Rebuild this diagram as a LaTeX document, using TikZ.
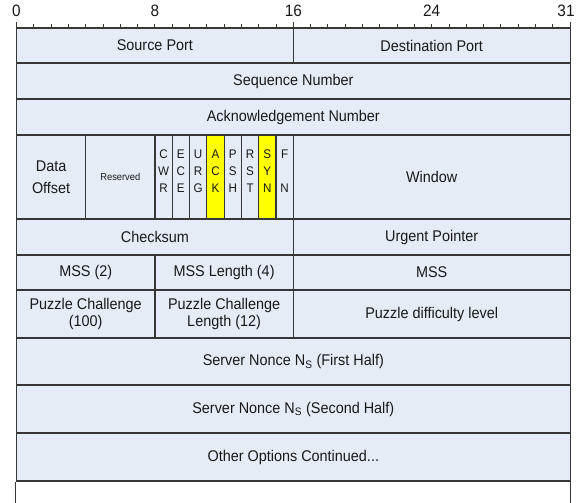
\documentclass[tikz,border=0pt]{standalone}
\usepackage{fontspec}
\setmainfont[FakeStretch=0.93]{Liberation Sans}
\definecolor{cellfill}{RGB}{229,236,246}
\definecolor{linec}{RGB}{55,55,55}
\definecolor{txtc}{RGB}{25,25,25}
\definecolor{flagyel}{RGB}{255,255,0}
% #1 options, #2 name, #3 x1, #4 y1, #5 x2, #6 y2, #7 text
\newcommand\cellnode[7][]{%
  \node[cell,#1,minimum width={#5bp-#3bp},minimum height={#6bp-#4bp}]
    (#2) at ({(#3+#5)/2},{(#4+#6)/2}) {#7};}
\newcommand\flagtxt[1]{\raisebox{5bp}[\height][\depth]{\begin{tabular}{@{}c@{}}#1\end{tabular}}}
\begin{document}
\begin{tikzpicture}[x=1bp,y=-1bp,
  cell/.style={draw=linec,fill=cellfill,line width=1.2bp,inner sep=0pt,
    align=center,text=txtc,font=\fontsize{15.5bp}{17.5bp}\selectfont},
  flag/.style={font=\fontsize{12.5bp}{17bp}\selectfont},
  yel/.style={fill=flagyel},
  smalltxt/.style={font=\fontsize{10bp}{11bp}\selectfont},
  wide/.style={font=\fontsize{15.5bp}{22bp}\selectfont},
  tick/.style={draw=linec,line width=1bp},
  num/.style={inner sep=0pt,text=txtc,font=\fontsize{16.5bp}{18bp}\selectfont},
  frame/.style={draw=linec,line width=1.2bp}]
\useasboundingbox (0,0) rectangle (582,503);
% ruler
\foreach \i in {0,...,32} \draw[tick] ({16.5+17.3*\i},28) -- ++(0,-4);
\foreach \xx in {16.5,293.3,570.1} \draw[tick] (\xx,28) -- (\xx,22);
\node[num] (r0) at (16.5,11) {0};
\node[num] (r8) at (154.9,11) {8};
\node[num] (r16) at (293.3,11) {16};
\node[num] (r24) at (431.7,11) {24};
\node[num] (r31) at (566,11) {31};
% row 1
\cellnode{sp}{16.5}{28}{293.3}{63}{Source Port}
\cellnode{dp}{293.3}{28}{570.1}{63}{Destination Port}
% row 2, 3
\cellnode{seq}{16.5}{63}{570.1}{99}{Sequence Number}
\cellnode{ack}{16.5}{99}{570.1}{135}{Acknowledgement Number}
% row 4
\cellnode[wide]{doff}{16.5}{135}{85.7}{219}{Data\\Offset}
\cellnode[smalltxt]{res}{85.7}{135}{154.9}{219}{Reserved}
\cellnode[flag]{fcwr}{154.9}{135}{172.2}{219}{\flagtxt{C\\W\\R}}
\cellnode[flag]{fece}{172.2}{135}{189.5}{219}{\flagtxt{E\\C\\E}}
\cellnode[flag]{furg}{189.5}{135}{206.8}{219}{\flagtxt{U\\R\\G}}
\cellnode[flag,yel]{fack}{206.8}{135}{224.1}{219}{\flagtxt{A\\C\\K}}
\cellnode[flag]{fpsh}{224.1}{135}{241.4}{219}{\flagtxt{P\\S\\H}}
\cellnode[flag]{frst}{241.4}{135}{258.7}{219}{\flagtxt{R\\S\\T}}
\cellnode[flag,yel]{fsyn}{258.7}{135}{276.0}{219}{\flagtxt{S\\Y\\N}}
\cellnode[flag]{ffin}{276.0}{135}{293.3}{219}{\flagtxt{F\\ \\N}}
\cellnode{win}{293.3}{135}{570.1}{219}{Window}
% row 5
\cellnode{chk}{16.5}{219}{293.3}{255}{Checksum}
\cellnode{urg}{293.3}{219}{570.1}{255}{Urgent Pointer}
% row 6
\cellnode{mss}{16.5}{255}{154.9}{290}{MSS (2)}
\cellnode{mssl}{154.9}{255}{293.3}{290}{MSS Length (4)}
\cellnode{mssv}{293.3}{255}{570.1}{290}{MSS}
% row 7
\cellnode{pc}{16.5}{290}{154.9}{338}{Puzzle Challenge\\(100)}
\cellnode{pcl}{154.9}{290}{293.3}{338}{Puzzle Challenge\\Length (12)}
\cellnode{pdl}{293.3}{290}{570.1}{338}{Puzzle difficulty level}
% rows 8-10
\cellnode{sn1}{16.5}{338}{570.1}{385}{Server Nonce N\textsubscript{S} (First Half)}
\cellnode{sn2}{16.5}{385}{570.1}{433}{Server Nonce N\textsubscript{S} (Second Half)}
\cellnode{oth}{16.5}{433}{570.1}{481}{Other Options Continued...}
% open last row
\draw[frame] (oth.south west) -- ++(0,25);
\draw[frame] (oth.south east) -- ++(0,25);
\end{tikzpicture}
\end{document}
